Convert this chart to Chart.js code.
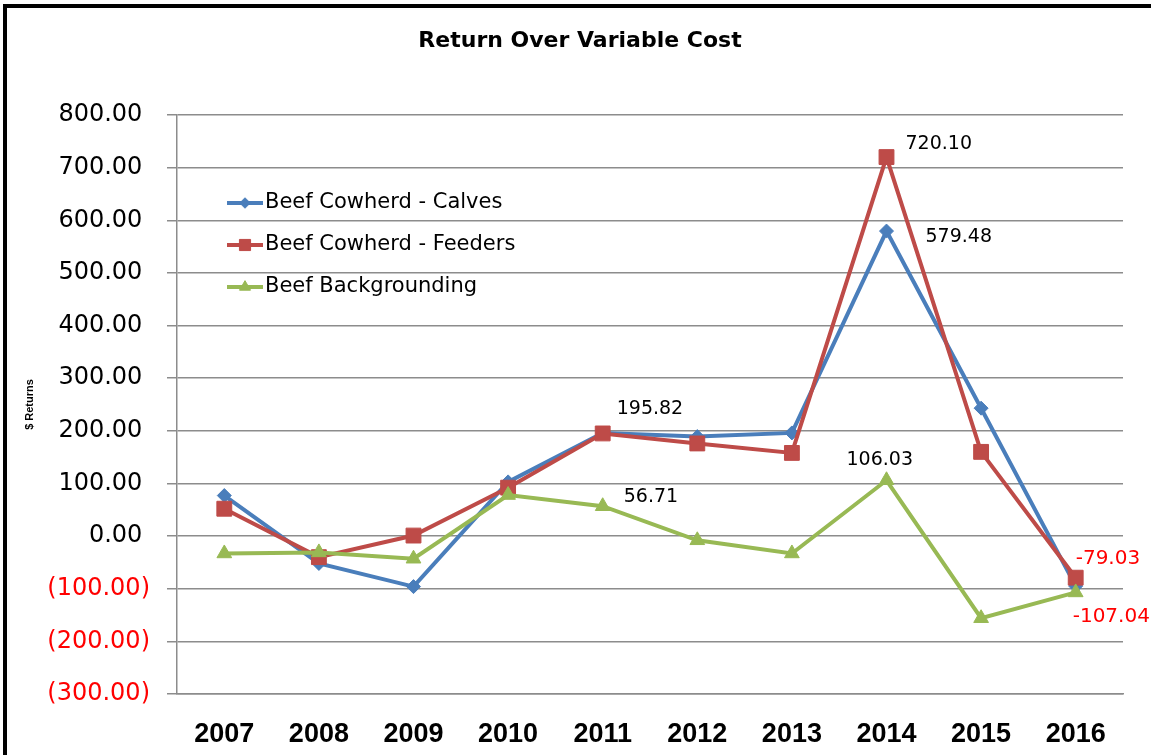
<!DOCTYPE html>
<html>
<head>
<meta charset="utf-8">
<title>Return Over Variable Cost</title>
<script src="https://cdn.jsdelivr.net/npm/chart.js@4.4.1/dist/chart.umd.min.js"></script>
<style>
  html, body { margin: 0; padding: 0; background: #fff; overflow: hidden; }
  #frame { position: absolute; left: 3px; top: 4px; width: 1200px; height: 800px;
           border-left: 4px solid #000; border-top: 4px solid #000; }
  #wrap { position: absolute; left: 0; top: 0; width: 1151px; height: 755px; }
</style>
</head>
<body>
<div id="frame"></div>
<div id="wrap"><canvas id="chart" width="1151" height="755"></canvas></div>
<script>
const years = ["2007", "2008", "2009", "2010", "2011", "2012", "2013", "2014", "2015", "2016"];
const calves = [77, -52, -96, 103, 195.82, 189, 196, 579.48, 243, -95];
const feeders = [52, -40, 1, 92, 195, 176, 158, 720.10, 160, -79.03];
const backgrounding = [-33, -31, -43, 78, 56.71, -8, -33, 106.03, -156, -107.04];
const seriesNames = ["Beef Cowherd - Calves", "Beef Cowherd - Feeders", "Beef Backgrounding"];

const BLUE = "#4a7ebb";
const RED = "#be4b48";
const GREEN = "#98b954";
const GRID = "#8c8c8c";

// value labels: which point, and where the text sits relative to it
const pointLabels = [
  { series: 0, index: 4, dx: 14, dy: -24 },
  { series: 0, index: 7, dx: 39, dy: 6 },
  { series: 1, index: 7, dx: 19, dy: -13 },
  { series: 1, index: 9, dx: 0, dy: -19 },
  { series: 2, index: 4, dx: 21, dy: -9 },
  { series: 2, index: 7, dx: -40, dy: -20 },
  { series: 2, index: 9, dx: -3, dy: 24 }
];

function fmtTick(v) {
  if (v < 0) return "(" + Math.abs(v).toFixed(2) + ")";
  return v.toFixed(2) + "\u2008";
}

const valueLabelPlugin = {
  id: "valueLabels",
  afterDatasetsDraw(chart) {
    const ctx = chart.ctx;
    ctx.save();
    ctx.textAlign = "left";
    ctx.textBaseline = "middle";
    pointLabels.forEach((l) => {
      const ds = chart.data.datasets[l.series];
      const v = ds.data[l.index];
      const pt = chart.getDatasetMeta(l.series).data[l.index];
      if (v < 0) {
        ctx.fillStyle = "#ff0000";
        ctx.font = "20px 'DejaVu Sans'";
      } else {
        ctx.fillStyle = "#000";
        ctx.font = "19px 'DejaVu Sans'";
      }
      ctx.fillText(v.toFixed(2), pt.x + l.dx, pt.y + l.dy);
    });
    ctx.restore();
  }
};

// legend sits inside the plot, top-left
const insideLegendPlugin = {
  id: "insideLegend",
  afterDatasetsDraw(chart) {
    const ctx = chart.ctx;
    const area = chart.chartArea;
    const x0 = area.left + 50;
    const y0 = area.top + 88;
    ctx.save();
    chart.data.datasets.forEach((ds, i) => {
      const y = y0 + i * 42;
      ctx.strokeStyle = ds.borderColor;
      ctx.lineWidth = 4;
      ctx.beginPath();
      ctx.moveTo(x0, y);
      ctx.lineTo(x0 + 36, y);
      ctx.stroke();
      ctx.fillStyle = ds.backgroundColor;
      ctx.lineWidth = 1;
      Chart.helpers.drawPoint(ctx, {
        pointStyle: ds.pointStyle,
        radius: ds.pointRadius * 0.75,
        rotation: 0,
        borderWidth: 1
      }, x0 + 18, y);
      ctx.fillStyle = "#000";
      ctx.font = "21px 'DejaVu Sans'";
      ctx.textAlign = "left";
      ctx.textBaseline = "middle";
      ctx.fillText(ds.label, x0 + 38, y);
    });
    ctx.restore();
  }
};

const mk = (label, data, color, style, radius, order) => ({
  label,
  data,
  borderColor: color,
  backgroundColor: color,
  borderWidth: 4,
  pointStyle: style,
  pointRadius: radius,
  pointBorderWidth: 1,
  pointBackgroundColor: color,
  pointBorderColor: color,
  tension: 0,
  order
});

new Chart(document.getElementById("chart"), {
  type: "line",
  data: {
    labels: years,
    datasets: [
      mk(seriesNames[0], calves, BLUE, "rectRot", 7, 2),
      mk(seriesNames[1], feeders, RED, "rect", 10.5, 1),
      mk(seriesNames[2], backgrounding, GREEN, "triangle", 8.5, 0)
    ]
  },
  options: {
    responsive: false,
    animation: false,
    devicePixelRatio: 1,
    layout: { padding: { left: 37, right: 28, top: 0, bottom: 0 } },
    plugins: {
      legend: { display: false },
      tooltip: { enabled: false },
      title: {
        display: true,
        text: "Return Over Variable Cost",
        color: "#000",
        font: { family: "'DejaVu Sans'", size: 22, weight: "bold" },
        padding: { top: 28, bottom: 60.6 }
      }
    },
    scales: {
      x: {
        offset: true,
        grid: { display: false },
        border: { color: GRID, width: 1.5 },
        ticks: {
          color: "#000",
          font: { family: "'Liberation Sans'", size: 27, weight: "bold" },
          padding: 16,
          maxRotation: 0,
          autoSkip: false
        },
        afterFit(s) { s.height = 61; }
      },
      y: {
        min: -300,
        max: 800,
        ticks: {
          stepSize: 100,
          padding: 17,
          font: { family: "'DejaVu Sans'", size: 24 },
          color: (c) => (c.tick.value < 0 ? "#ff0000" : "#000"),
          callback: (v) => fmtTick(v)
        },
        grid: { color: GRID, lineWidth: 1.5, tickLength: 10 },
        border: { color: GRID, width: 1.5 },
        title: {
          display: true,
          text: "$ Returns",
          color: "#000",
          font: { family: "'Liberation Sans'", size: 11, weight: "bold" },
          padding: { top: -14, bottom: 0 }
        },
        afterFit(s) { s.width = 140; }
      }
    }
  },
  plugins: [valueLabelPlugin, insideLegendPlugin]
});
</script>
</body>
</html>
